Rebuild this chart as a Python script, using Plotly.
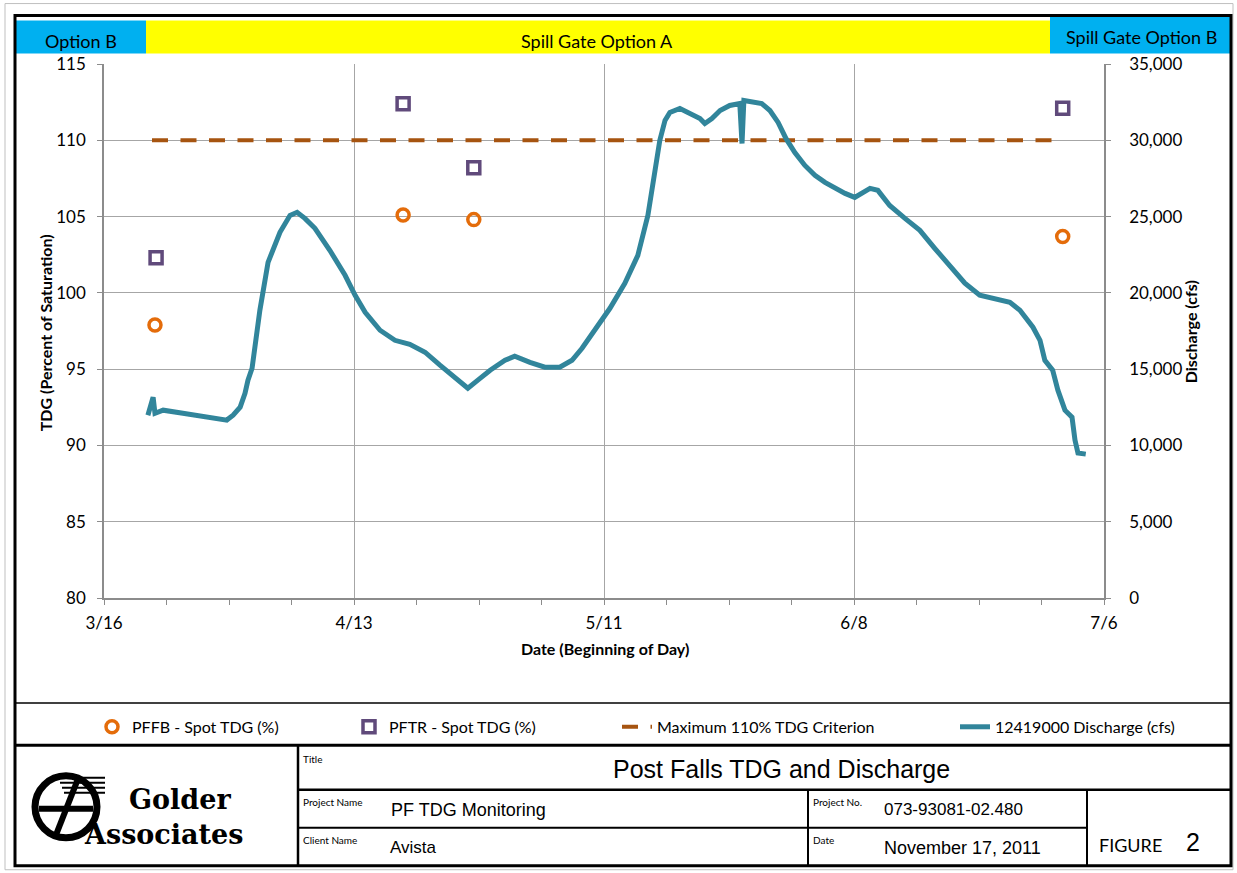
import plotly.graph_objects as go

# ---------------- data ----------------
dis_time = [
    "2011-03-20 22:00", "2011-03-21 12:00", "2011-03-21 17:00", "2011-03-22 15:00", "2011-03-24 20:00",
    "2011-03-26 18:00", "2011-03-28 16:00", "2011-03-29 18:00", "2011-03-30 11:00", "2011-03-31 06:00",
    "2011-03-31 19:00", "2011-04-01 03:00", "2011-04-01 14:00", "2011-04-01 22:00", "2011-04-02 11:00",
    "2011-04-03 09:00", "2011-04-04 17:00", "2011-04-05 20:00", "2011-04-06 15:00", "2011-04-07 12:00",
    "2011-04-08 15:00", "2011-04-10 07:00", "2011-04-12 00:00", "2011-04-13 03:00", "2011-04-14 06:00",
    "2011-04-15 22:00", "2011-04-17 14:00", "2011-04-19 06:00", "2011-04-20 23:00", "2011-04-22 15:00",
    "2011-04-24 07:00", "2011-04-25 18:00", "2011-04-26 21:00", "2011-04-28 06:00", "2011-04-29 22:00",
    "2011-05-01 00:00", "2011-05-02 17:00", "2011-05-04 09:00", "2011-05-06 01:00", "2011-05-07 10:00",
    "2011-05-08 13:00", "2011-05-10 00:00", "2011-05-11 16:00", "2011-05-13 08:00", "2011-05-14 19:00",
    "2011-05-15 22:00", "2011-05-16 17:00", "2011-05-17 06:00", "2011-05-17 20:00", "2011-05-18 09:00",
    "2011-05-19 12:00", "2011-05-20 15:00", "2011-05-21 18:00", "2011-05-22 07:00", "2011-05-23 02:00",
    "2011-05-24 00:00", "2011-05-25 02:00", "2011-05-26 05:00", "2011-05-26 11:00", "2011-05-26 16:00",
    "2011-05-27 13:00", "2011-05-28 16:00", "2011-05-29 14:00", "2011-05-30 12:00", "2011-05-31 09:00",
    "2011-06-01 09:00", "2011-06-02 12:00", "2011-06-03 15:00", "2011-06-04 18:00", "2011-06-05 21:00",
    "2011-06-07 00:00", "2011-06-08 02:00", "2011-06-08 21:00", "2011-06-09 19:00", "2011-06-10 16:00",
    "2011-06-12 00:00", "2011-06-13 17:00", "2011-06-15 09:00", "2011-06-17 01:00", "2011-06-18 18:00",
    "2011-06-20 10:00", "2011-06-22 02:00", "2011-06-23 19:00", "2011-06-25 11:00", "2011-06-26 14:00",
    "2011-06-28 01:00", "2011-06-28 20:00", "2011-06-29 09:00", "2011-06-30 06:00", "2011-06-30 20:00",
    "2011-07-01 15:00", "2011-07-02 10:00", "2011-07-02 18:00", "2011-07-03 02:00", "2011-07-03 23:00",
]
dis_cfs = [
    11980, 13160, 12110, 12310, 12110,
    11920, 11720, 11660, 11980, 12510,
    13420, 14280, 15060, 16700, 18860,
    22000, 23970, 25080, 25280, 24880,
    24230, 22790, 21150, 19840, 18730,
    17550, 16890, 16630, 16110, 15260,
    14410, 13750, 14280, 14930, 15580,
    15850, 15450, 15130, 15130, 15580,
    16370, 17550, 18990, 20630, 22460,
    25080, 28030, 29990, 31300, 31820,
    32090, 31760, 31430, 31100, 31430,
    31950, 32280, 32410, 29790, 32610,
    32540, 32410, 31950, 31170, 30120,
    29200, 28350, 27700, 27240, 26850,
    26520, 26260, 26520, 26850, 26720,
    25730, 24880, 24100, 22920, 21810,
    20630, 19840, 19640, 19380, 18860,
    17750, 16890, 15580, 14930, 13620,
    12310, 11850, 10350, 9500, 9430,
]
pffb_time = ["2011-03-21 17:00", "2011-04-18 12:00", "2011-04-26 10:00", "2011-07-01 09:00"]
pffb_tdg = [97.9, 105.1, 104.8, 103.7]
pftr_time = ["2011-03-21 20:00", "2011-04-18 12:00", "2011-04-26 10:00", "2011-07-01 09:00"]
pftr_tdg = [102.3, 112.4, 108.2, 112.1]
crit_time = ["2011-03-21 09:00", "2011-06-30 04:00"]
crit_tdg = [110, 110]

x_range = ["2011-03-16", "2011-07-06"]
y_left_range = [80, 115]
y_right_range = [0, 35000]

# ---------------- layout helpers ----------------
W, H = 1237, 873
L, R, T, B = 104, 1104, 63.5, 598


def px(x):
    return (x - L) / (R - L)


def py(y):
    return (B - y) / (B - T)


CAL = "Lato"
ARI = "Liberation Sans"
TEAL = "#31859B"
ORANGE = "#E46C0A"
PURPLE = "#604A7B"
BROWN = "#A65410"
GRID = "#A6A6A6"
AXC = "#8C8C8C"

fig = go.Figure()

fig.add_trace(go.Scatter(
    x=dis_time, y=dis_cfs, yaxis="y2", mode="lines",
    name="12419000 Discharge (cfs)", line=dict(color=TEAL, width=5),
    legend="legend4"))
fig.add_trace(go.Scatter(
    x=crit_time, y=crit_tdg, mode="lines",
    name="Maximum 110% TDG Criterion",
    line=dict(color=BROWN, width=4, dash="16px,12.5px"),
    legend="legend3"))
fig.add_trace(go.Scatter(
    x=pffb_time, y=pffb_tdg, mode="markers", name="PFFB - Spot TDG (%)",
    marker=dict(symbol="circle-open", size=12, line=dict(color=ORANGE, width=3.5), color=ORANGE),
    legend="legend"))
fig.add_trace(go.Scatter(
    x=pftr_time, y=pftr_tdg, mode="markers", name="PFTR - Spot TDG (%)",
    marker=dict(symbol="square-open", size=12, line=dict(color=PURPLE, width=3.5), color=PURPLE),
    legend="legend2"))

shapes = []


def rect(x0, y0, x1, y1, fill=None, line_color=None, lw=0, layer="below"):
    d = dict(type="rect", xref="paper", yref="paper",
             x0=px(x0), x1=px(x1), y0=py(y0), y1=py(y1), layer=layer)
    if fill:
        d["fillcolor"] = fill
    d["line"] = dict(color=line_color or "rgba(0,0,0,0)", width=lw)
    shapes.append(d)


def hline(x0, x1, y, color="black", lw=2):
    shapes.append(dict(type="line", xref="paper", yref="paper",
                       x0=px(x0), x1=px(x1), y0=py(y), y1=py(y),
                       line=dict(color=color, width=lw)))


def vline(x, y0, y1, color="black", lw=2):
    shapes.append(dict(type="line", xref="paper", yref="paper",
                       x0=px(x), x1=px(x), y0=py(y0), y1=py(y1),
                       line=dict(color=color, width=lw)))


# outer light border
rect(5, 3, 1233, 870, line_color="#BFBFBF", lw=1)
# header bands
rect(16, 20, 146, 53, fill="#00B0F0")
rect(146, 20, 1050, 53, fill="#FFFF00")
rect(1050, 16, 1231, 53, fill="#00B0F0")
# main black border
rect(15, 15, 1231, 866, line_color="black", lw=3, layer="above")
# legend box lines
hline(15, 1231, 703, lw=1.5)
hline(15, 1231, 745.5, lw=3)
# title block grid
vline(298, 745, 866, lw=2.5)
hline(298, 1231, 790, lw=2.5)
hline(298, 1087, 828, lw=2)
vline(808, 790, 866, lw=2)
vline(1087, 790, 866, lw=2)

# logo: ring + strokes
cx, cy, r = 66, 807, 31
shapes.append(dict(type="circle", xref="paper", yref="paper",
                   x0=px(cx - r), x1=px(cx + r), y0=py(cy + r), y1=py(cy - r),
                   line=dict(color="black", width=7)))
hline(cx - r + 4, cx + r - 4, cy + 2, lw=6)
shapes.append(dict(type="line", xref="paper", yref="paper",
                   x0=px(cx - 10), x1=px(cx + 12), y0=py(cy + r - 3), y1=py(cy - r + 3),
                   line=dict(color="black", width=6)))
for k, yy in enumerate([778, 783, 788, 793]):
    hline(cx - 8 + k * 2, cx + r + 8, yy, lw=2)

ann = []


def text(x, y, s, size, family=CAL, xanchor="center", yanchor="middle", bold=False, angle=0, color="black"):
    ann.append(dict(xref="paper", yref="paper", x=px(x), y=py(y), text=(f"<b>{s}</b>" if bold else s),
                    showarrow=False, xanchor=xanchor, yanchor=yanchor, textangle=angle,
                    font=dict(family=family, size=size, color=color)))


# header texts
text(81, 40, "Option B", 18)
text(597, 40, "Spill Gate Option A", 18)
text(1141, 36, "Spill Gate Option B", 18)
# axis titles
text(45, 333, "TDG (Percent of Saturation)", 16, bold=True, angle=-90)
text(1190, 332, "Discharge (cfs)", 16, bold=True, angle=-90)
text(605, 649, "Date (Beginning of Day)", 16, bold=True)
# title block
text(301, 759, "Title", 10, xanchor="left")
text(781, 769, "Post Falls TDG and Discharge", 25, family=ARI)
text(301, 802, "Project Name", 10, xanchor="left")
text(389, 810, "PF TDG Monitoring", 18, family=ARI, xanchor="left")
text(811, 802, "Project No.", 10, xanchor="left")
text(882, 810, "073-93081-02.480", 17, family=ARI, xanchor="left")
text(301, 840, "Client Name", 10, xanchor="left")
text(388, 848, "Avista", 17, family=ARI, xanchor="left")
text(811, 840, "Date", 10, xanchor="left")
text(882, 848, "November 17, 2011", 18, family=ARI, xanchor="left")
text(1097, 845, "FIGURE", 18, xanchor="left")
text(1193, 842, "2", 25, family=ARI)
# logo text (stacked, boxes touching)
text(180, 817, "Golder", 27, family="DejaVu Serif", bold=True, yanchor="bottom")
text(163, 817, "Associates", 27, family="DejaVu Serif", bold=True, yanchor="top")

leg_common = dict(orientation="h", yanchor="middle", xanchor="left", y=py(727),
                  bgcolor="rgba(0,0,0,0)", font=dict(family=CAL, size=16, color="black"))

fig.update_layout(
    width=W, height=H,
    margin=dict(l=L, r=W - R, t=T, b=H - B, pad=0),
    paper_bgcolor="white", plot_bgcolor="white",
    shapes=shapes, annotations=ann,
    showlegend=True,
    legend=dict(x=px(92), **leg_common),
    legend2=dict(x=px(349), **leg_common),
    legend3=dict(x=px(617), **leg_common),
    legend4=dict(x=px(955), **leg_common),
    xaxis=dict(
        type="date", range=x_range, tick0="2011-03-16", dtick=28 * 86400000,
        tickformat="%-m/%-d", showgrid=True, gridcolor=GRID, gridwidth=1,
        ticks="outside", ticklen=5, tickcolor=AXC, showline=True, linecolor=AXC, linewidth=1.5,
        tickfont=dict(family=CAL, size=17, color="black"), ticklabelstandoff=4,
        minor=dict(tick0="2011-03-16", dtick=7 * 86400000, ticks="outside", ticklen=5,
                   tickcolor=AXC, showgrid=False),
        zeroline=False, fixedrange=True,
    ),
    yaxis=dict(
        range=y_left_range, dtick=5, tick0=80, showgrid=True, gridcolor=GRID, gridwidth=1,
        ticks="outside", ticklen=5, tickcolor=AXC, showline=True, linecolor=AXC, linewidth=1.5,
        tickfont=dict(family=CAL, size=17, color="black"), ticklabelstandoff=8,
        zeroline=False,
    ),
    yaxis2=dict(
        range=y_right_range, dtick=5000, tick0=0, overlaying="y", side="right",
        showgrid=False, ticks="outside", ticklen=5, tickcolor=AXC,
        showline=True, linecolor=AXC, linewidth=1.5, tickformat=",",
        tickfont=dict(family=CAL, size=17, color="black"), ticklabelstandoff=15,
        zeroline=False,
    ),
)

fig.write_html("out.html", post_script="document.body.style.margin='0';",
               config={"displayModeBar": False})
